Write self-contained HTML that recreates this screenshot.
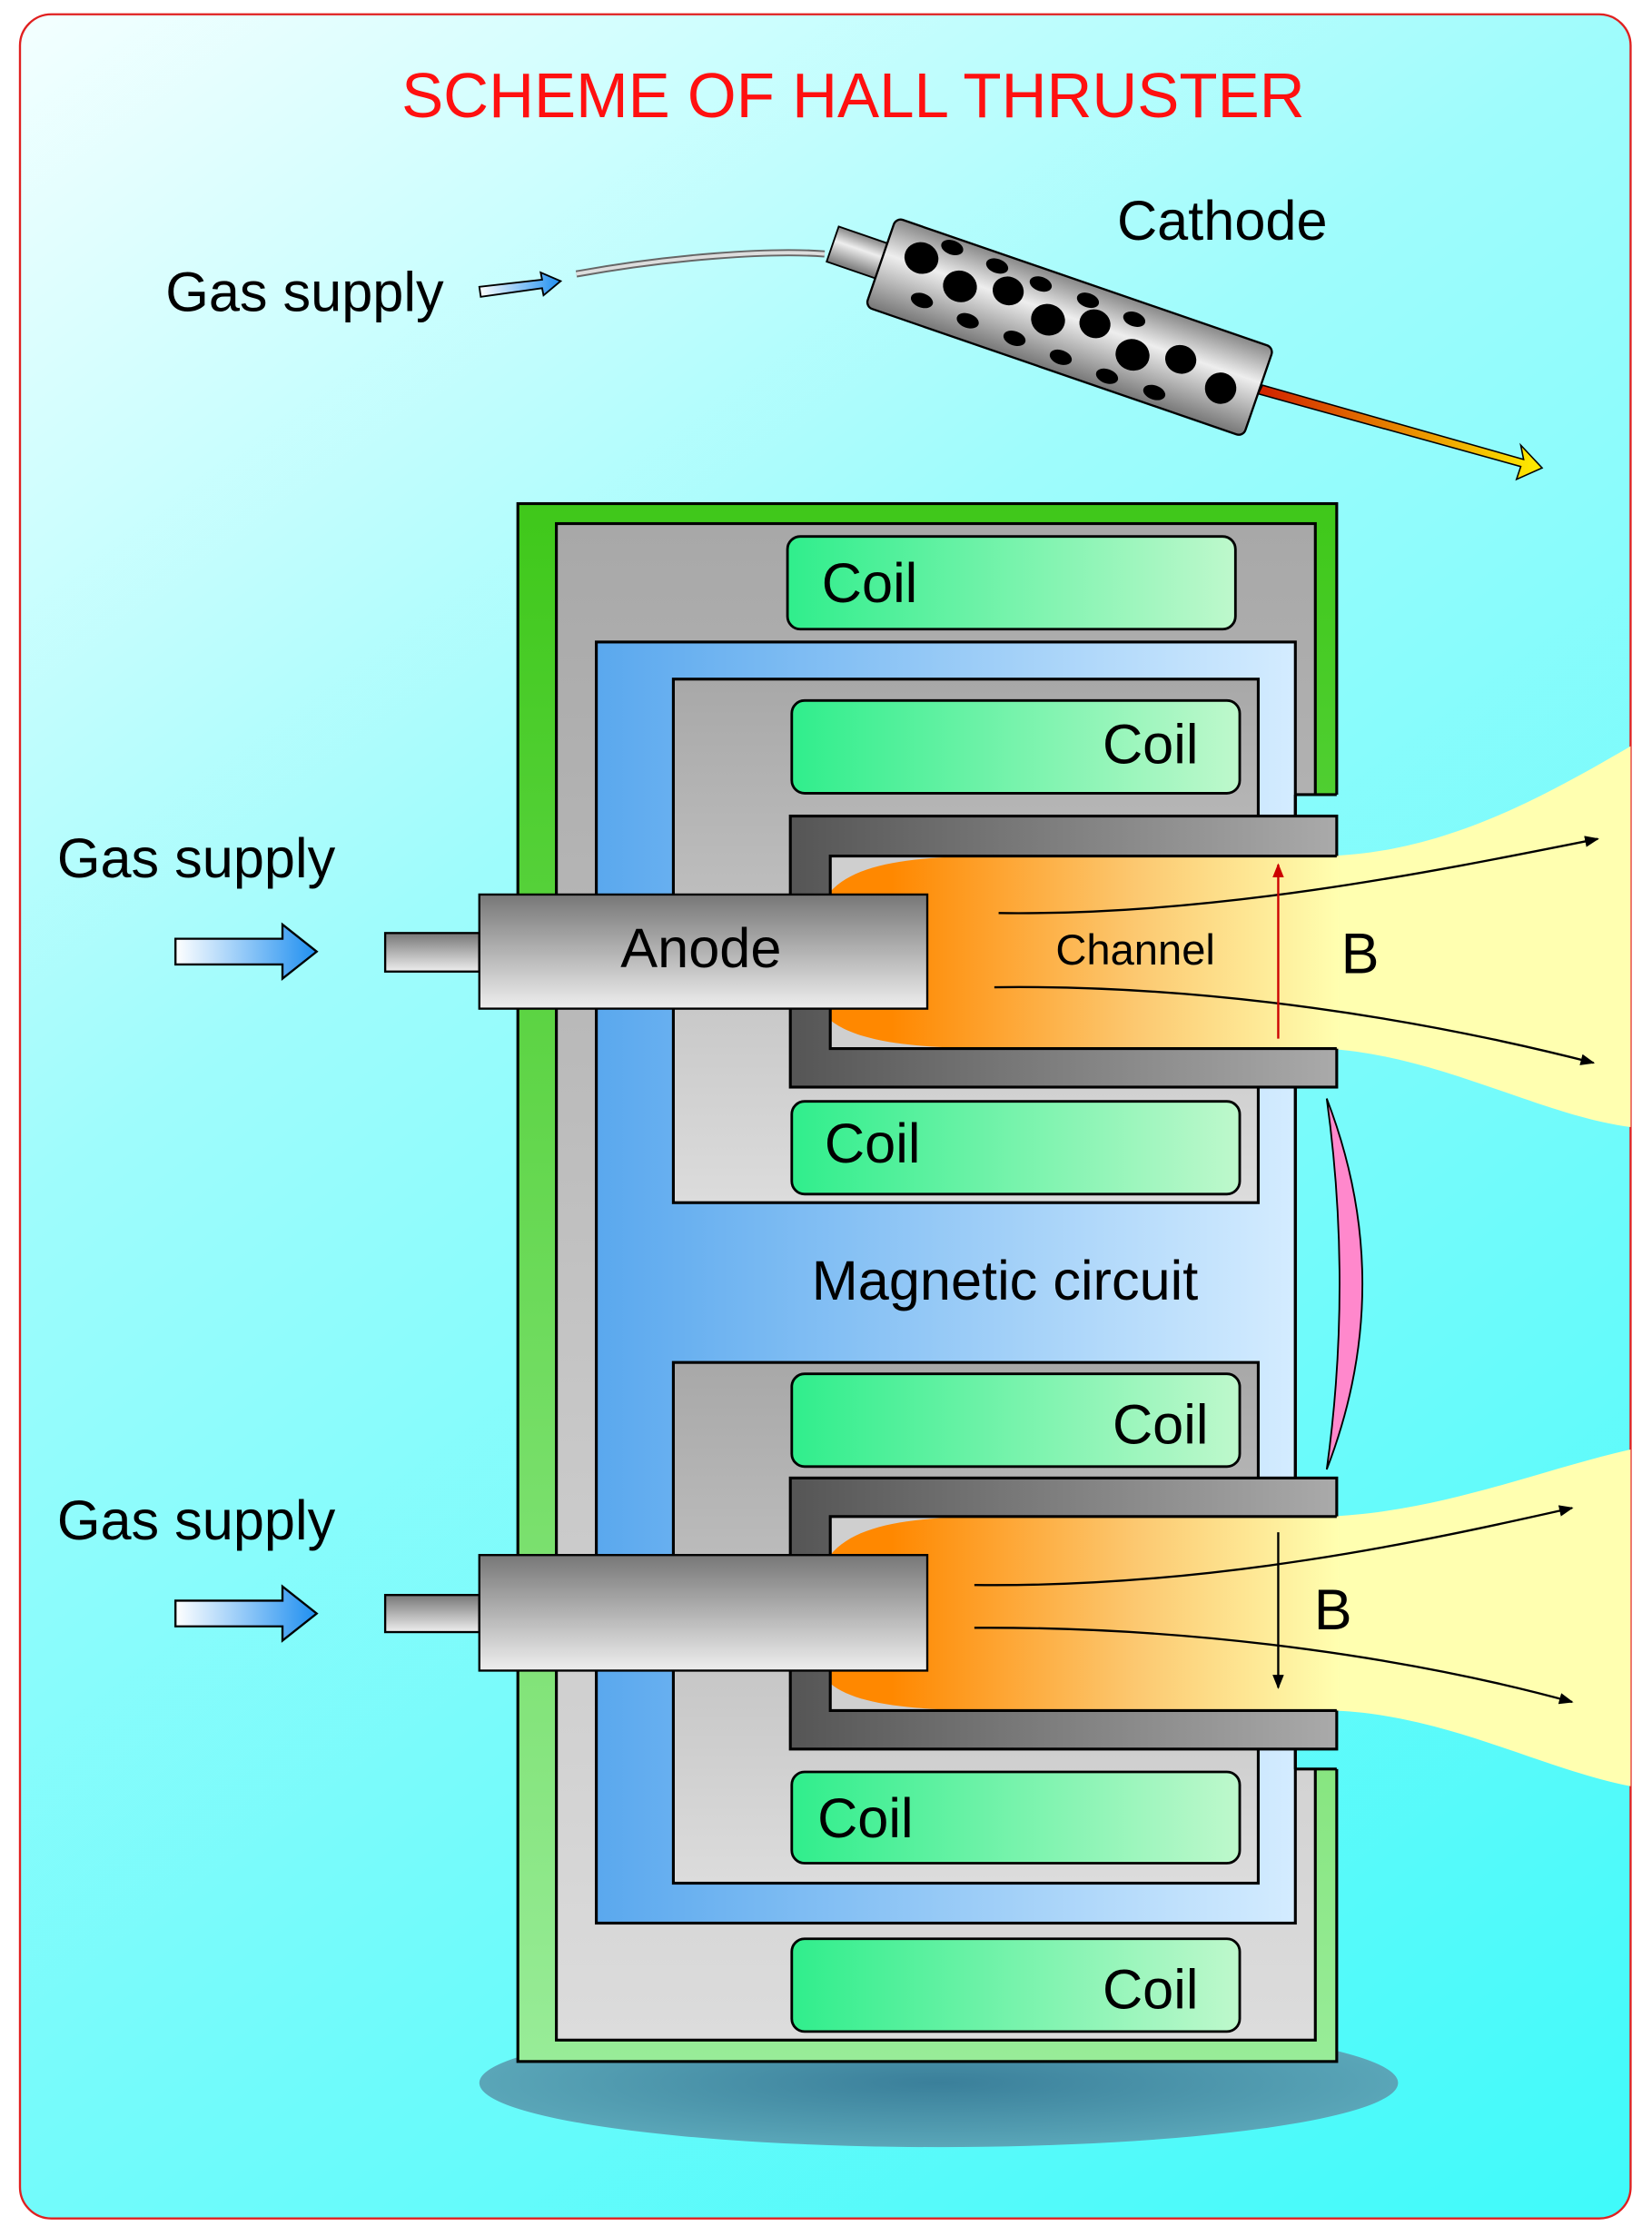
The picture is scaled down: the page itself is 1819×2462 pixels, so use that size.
<!DOCTYPE html>
<html><head><meta charset="utf-8"><style>html,body{margin:0;padding:0;background:#fff}svg{display:block}</style></head>
<body>
<svg width="1819" height="2462" viewBox="0 0 1158 1567.3" xmlns="http://www.w3.org/2000/svg" font-family="Liberation Sans, sans-serif">
<defs>
<linearGradient id="bg" gradientUnits="userSpaceOnUse" x1="14" y1="10" x2="1143" y2="1555"><stop offset="0" stop-color="#f4ffff"/><stop offset="0.35" stop-color="#9ffcfc"/><stop offset="1" stop-color="#3ffafa"/></linearGradient>
<linearGradient id="green" x1="0" y1="0" x2="0" y2="1"><stop offset="0" stop-color="#3fc81a"/><stop offset="1" stop-color="#98ec98"/></linearGradient>
<linearGradient id="grey" x1="0" y1="0" x2="0" y2="1"><stop offset="0" stop-color="#a8a8a8"/><stop offset="1" stop-color="#dcdcdc"/></linearGradient>
<linearGradient id="blue" x1="0" y1="0" x2="1" y2="0"><stop offset="0" stop-color="#5aa8ee"/><stop offset="1" stop-color="#d4ecff"/></linearGradient>
<linearGradient id="coil" x1="0" y1="0" x2="1" y2="0"><stop offset="0" stop-color="#30ee8c"/><stop offset="1" stop-color="#bef8cc"/></linearGradient>
<linearGradient id="wall" x1="0" y1="0" x2="1" y2="0"><stop offset="0" stop-color="#555"/><stop offset="1" stop-color="#aaa"/></linearGradient>
<linearGradient id="anode" x1="0" y1="0" x2="0" y2="1"><stop offset="0" stop-color="#777"/><stop offset="1" stop-color="#eee"/></linearGradient>
<linearGradient id="plasma" x1="0" y1="0" x2="1" y2="0"><stop offset="0.12" stop-color="#ff8800"/><stop offset="0.6" stop-color="#fcc870"/><stop offset="1" stop-color="#ffffb0"/></linearGradient>
<linearGradient id="arr" x1="0" y1="0" x2="1" y2="0"><stop offset="0" stop-color="#fff"/><stop offset="1" stop-color="#1f8ff0"/></linearGradient>
<linearGradient id="cath" x1="0" y1="0" x2="0" y2="1"><stop offset="0" stop-color="#888"/><stop offset="0.4" stop-color="#eee"/><stop offset="1" stop-color="#777"/></linearGradient>
<linearGradient id="fire" x1="0" y1="0" x2="1" y2="0"><stop offset="0" stop-color="#d02000"/><stop offset="1" stop-color="#ffee00"/></linearGradient>
<radialGradient id="shadow" cx="0.5" cy="0.5" r="0.5"><stop offset="0" stop-color="#3a7f9a"/><stop offset="1" stop-color="#5aa6b8"/></radialGradient>
<marker id="ah" markerWidth="10" markerHeight="8" refX="9" refY="4" orient="auto" markerUnits="userSpaceOnUse"><path d="M0,0 L10,4 L0,8 Z" fill="#000"/></marker>
<marker id="ahr" markerWidth="10" markerHeight="10" refX="9" refY="5" orient="auto" markerUnits="userSpaceOnUse"><path d="M0,1 L10,5 L0,9 Z" fill="#c00"/></marker>
</defs>
<rect x="14" y="10" width="1129" height="1545" rx="22" fill="url(#bg)" stroke="#e02020" stroke-width="1.5"/>
<text x="598" y="82" font-size="44" fill="#ff1010" text-anchor="middle">SCHEME OF HALL THRUSTER</text>
<text x="783" y="168" font-size="39">Cathode</text>
<text x="116" y="218" font-size="39">Gas supply</text>
<path d="M336,201 L380,196 L379,191 L393,197 L381,207 L380,202 L337,208 Z" fill="url(#arr)" stroke="#000" stroke-width="1.2"/>
<path d="M404,192 C470,180 540,175 578,178" fill="none" stroke="#666" stroke-width="5"/>
<path d="M404,192 C470,180 540,175 578,178" fill="none" stroke="#ddd" stroke-width="2.5"/>
<path d="M885,270 L1068,322 L1066,312 L1081,328 L1063,336 L1066,327 L882,276 Z" fill="url(#fire)" stroke="#000" stroke-width="1"/>
<g transform="translate(746,228) rotate(19)">
<rect x="-172" y="-14" width="38" height="26" fill="url(#cath)" stroke="#000" stroke-width="1.2"/>
<rect x="-136" y="-33" width="280" height="66" rx="5" fill="url(#cath)" stroke="#000" stroke-width="1.5"/>
<g fill="#000">
<ellipse cx="-110" cy="-12" rx="12" ry="11"/><ellipse cx="-78" cy="-2" rx="12" ry="11"/><ellipse cx="-45" cy="-10" rx="11" ry="10"/><ellipse cx="-12" cy="0" rx="12" ry="11"/><ellipse cx="20" cy="-8" rx="11" ry="10"/><ellipse cx="52" cy="4" rx="12" ry="11"/><ellipse cx="85" cy="-4" rx="11" ry="10"/><ellipse cx="118" cy="6" rx="11" ry="11"/>
<ellipse cx="-92" cy="-26" rx="8" ry="5"/><ellipse cx="-58" cy="-24" rx="8" ry="5"/><ellipse cx="-25" cy="-22" rx="8" ry="5"/><ellipse cx="10" cy="-22" rx="8" ry="5"/><ellipse cx="45" cy="-20" rx="8" ry="5"/>
<ellipse cx="-100" cy="16" rx="8" ry="5"/><ellipse cx="-65" cy="19" rx="8" ry="5"/><ellipse cx="-30" cy="20" rx="8" ry="5"/><ellipse cx="5" cy="22" rx="8" ry="5"/><ellipse cx="40" cy="24" rx="8" ry="5"/><ellipse cx="75" cy="24" rx="8" ry="5"/>
</g></g>
<ellipse cx="658" cy="1460" rx="322" ry="45" fill="url(#shadow)"/>
<rect x="363" y="353" width="574" height="1092" fill="url(#green)" stroke="#000" stroke-width="2"/>
<rect x="390" y="367" width="532" height="1063" fill="url(#grey)" stroke="#000" stroke-width="2"/>
<rect x="418" y="450" width="490" height="898" fill="url(#blue)" stroke="#000" stroke-width="2"/>
<rect x="909.2" y="557" width="30" height="683" fill="url(#bg)"/>
<line x1="908" y1="557" x2="908" y2="1240" stroke="#000" stroke-width="2"/>
<line x1="908" y1="557" x2="937" y2="557" stroke="#000" stroke-width="2"/>
<line x1="908" y1="1240" x2="937" y2="1240" stroke="#000" stroke-width="2"/>
<rect x="472" y="476" width="410" height="367" fill="url(#grey)" stroke="#000" stroke-width="2"/>
<rect x="472" y="955" width="410" height="365" fill="url(#grey)" stroke="#000" stroke-width="2"/>
<path d="M930,600 C1010,598 1080,560 1143,523 V790 C1080,782 1010,740 930,735 Z" fill="#ffffb0"/>
<path d="M930,1063 C1010,1060 1080,1030 1143,1016 V1252 C1080,1240 1010,1200 930,1199 Z" fill="#ffffb0"/>
<rect x="554" y="572" width="383" height="190" fill="url(#wall)" stroke="#000" stroke-width="2"/>
<rect x="582" y="600" width="357" height="135" fill="#cfcfcf"/>
<path d="M582,625 C600,605 640,600 700,600 L939,600 L939,735 L700,735 C640,735 600,730 582,715 Z" fill="url(#plasma)"/>
<path d="M937,600 H582 V735 H937" fill="none" stroke="#000" stroke-width="2"/>
<rect x="554" y="1036" width="383" height="190" fill="url(#wall)" stroke="#000" stroke-width="2"/>
<rect x="582" y="1063" width="357" height="136" fill="#cfcfcf"/>
<path d="M582,1090 C600,1068 640,1063 700,1063 L939,1063 L939,1199 L700,1199 C640,1199 600,1195 582,1180 Z" fill="url(#plasma)"/>
<path d="M937,1063 H582 V1199 H937" fill="none" stroke="#000" stroke-width="2"/>
<rect x="270" y="654" width="66" height="27" fill="url(#anode)" stroke="#000" stroke-width="1.5"/>
<rect x="336" y="627" width="314" height="80" fill="url(#anode)" stroke="#000" stroke-width="1.5"/>
<text x="435" y="678" font-size="39">Anode</text>
<rect x="270" y="1118" width="66" height="26" fill="url(#anode)" stroke="#000" stroke-width="1.5"/>
<rect x="336" y="1090" width="314" height="81" fill="url(#anode)" stroke="#000" stroke-width="1.5"/>
<g stroke="#000" stroke-width="1.8" fill="url(#coil)">
<rect x="552" y="376" width="314" height="65" rx="9"/>
<rect x="555" y="491" width="314" height="65" rx="9"/>
<rect x="555" y="772" width="314" height="65" rx="9"/>
<rect x="555" y="963" width="314" height="65" rx="9"/>
<rect x="555" y="1242" width="314" height="64" rx="9"/>
<rect x="555" y="1359" width="314" height="65" rx="9"/>
</g>
<g font-size="39" fill="#000">
<text x="576" y="422">Coil</text>
<text x="840" y="535" text-anchor="end">Coil</text>
<text x="578" y="815">Coil</text>
<text x="847" y="1012" text-anchor="end">Coil</text>
<text x="573" y="1288">Coil</text>
<text x="840" y="1408" text-anchor="end">Coil</text>
<text x="569" y="911">Magnetic circuit</text>
<text x="40" y="615">Gas supply</text>
<text x="40" y="1079">Gas supply</text>
<text x="940" y="682" font-size="40">B</text>
<text x="921" y="1142" font-size="40">B</text>
</g>
<text x="740" y="676" font-size="30">Channel</text>
<path d="M930,770 Q980,900 930,1030 Q948,900 930,770 Z" fill="#ff88cc" stroke="#000" stroke-width="1.2"/>
<g fill="none" stroke="#000" stroke-width="1.5">
<path d="M700,640 C850,642 1000,612 1120,588" marker-end="url(#ah)"/>
<path d="M697,692 C850,690 1000,715 1117,745" marker-end="url(#ah)"/>
<path d="M683,1111 C850,1113 1000,1080 1102,1057" marker-end="url(#ah)"/>
<path d="M683,1141 C850,1140 1000,1165 1102,1193" marker-end="url(#ah)"/>
<line x1="896" y1="1074" x2="896" y2="1183" marker-end="url(#ah)"/>
</g>
<line x1="896" y1="728" x2="896" y2="606" stroke="#c00" stroke-width="1.5" marker-end="url(#ahr)"/>
<path d="M123,658 H198 V648 L222,667 L198,686 V676 H123 Z" fill="url(#arr)" stroke="#000" stroke-width="1.5"/>
<path d="M123,1122 H198 V1112 L222,1131 L198,1150 V1140 H123 Z" fill="url(#arr)" stroke="#000" stroke-width="1.5"/>
</svg>
</body></html>
